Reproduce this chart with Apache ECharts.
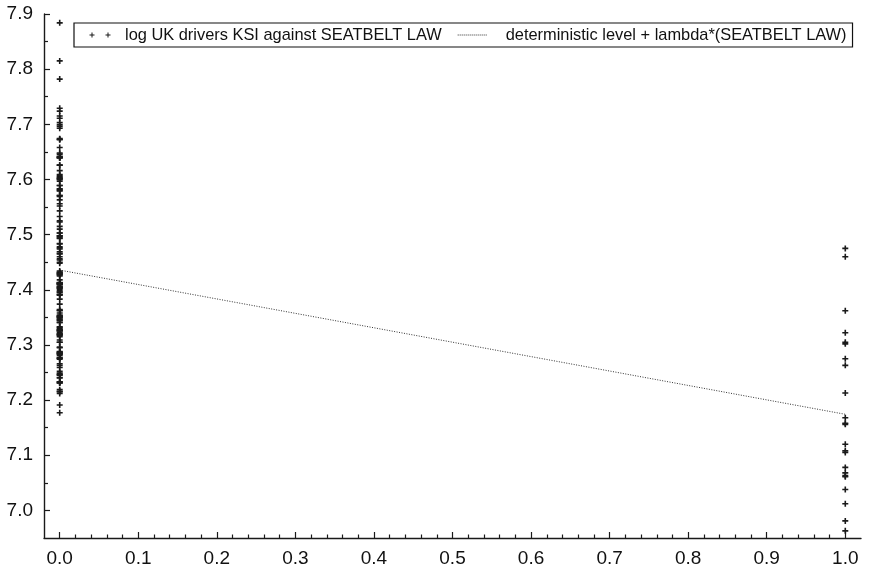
<!DOCTYPE html>
<html><head><meta charset="utf-8">
<script src="https://cdn.jsdelivr.net/npm/echarts@6/dist/echarts.min.js"></script>
<style>html,body{margin:0;padding:0;background:#fff}#c{width:869px;height:572px}</style>
</head><body><div id="c"></div>
<script>
// SEATBELT LAW dummy value for the two groups
const seatbeltBefore = 0;
const seatbeltAfter = 1;
// log UK drivers KSI, Jan 1969 - Jan 1983 (before the law)
const logKSIBefore = [
  7.431, 7.319, 7.318, 7.233, 7.398, 7.320, 7.352, 7.396, 7.364, 7.410, 7.674, 7.672,
  7.469, 7.476, 7.448, 7.351, 7.362, 7.326, 7.498, 7.496, 7.450, 7.605, 7.715, 7.815,
  7.616, 7.412, 7.434, 7.392, 7.498, 7.465, 7.493, 7.563, 7.390, 7.597, 7.711, 7.693,
  7.640, 7.478, 7.515, 7.358, 7.589, 7.525, 7.583, 7.432, 7.483, 7.589, 7.782, 7.884,
  7.648, 7.582, 7.425, 7.571, 7.602, 7.503, 7.607, 7.556, 7.642, 7.640, 7.658, 7.673,
  7.383, 7.315, 7.345, 7.231, 7.456, 7.494, 7.484, 7.543, 7.603, 7.639, 7.646, 7.626,
  7.363, 7.212, 7.410, 7.231, 7.326, 7.259, 7.274, 7.341, 7.412, 7.353, 7.552, 7.696,
  7.295, 7.412, 7.249, 7.241, 7.333, 7.177, 7.330, 7.191, 7.395, 7.466, 7.580, 7.729,
  7.407, 7.245, 7.252, 7.246, 7.240, 7.326, 7.332, 7.404, 7.323, 7.430, 7.601, 7.703,
  7.579, 7.288, 7.354, 7.285, 7.277, 7.391, 7.413, 7.401, 7.404, 7.428, 7.626, 7.724,
  7.503, 7.276, 7.474, 7.287, 7.350, 7.266, 7.263, 7.349, 7.406, 7.410, 7.609, 7.699,
  7.418, 7.216, 7.317, 7.215, 7.281, 7.328, 7.286, 7.347, 7.345, 7.510, 7.460, 7.571,
  7.296, 7.285, 7.341, 7.247, 7.328, 7.233, 7.403, 7.320, 7.427, 7.569, 7.533, 7.454,
  7.283, 7.276, 7.283, 7.219, 7.305, 7.351, 7.305, 7.429, 7.374, 7.523, 7.600, 7.640,
  7.309
];
// log UK drivers KSI, Feb 1983 - Dec 1984 (after the law)
const logKSIAfter = [
  6.963, 7.105, 7.063, 7.120, 6.981, 7.068, 7.038, 7.263, 7.305, 7.302, 7.322,
  7.213, 7.061, 7.156, 7.012, 7.168, 7.078, 7.108, 7.158, 7.275, 7.362, 7.460, 7.475
];
// deterministic level + lambda * SEATBELT LAW
const trendX = [0, 1];
const trendY = [7.4357, 7.1743];

const seriesNames = ['log UK drivers KSI against SEATBELT LAW', 'deterministic level + lambda*(SEATBELT LAW)'];
const xMajorTicks = [0, 0.1, 0.2, 0.3, 0.4, 0.5, 0.6, 0.7, 0.8, 0.9, 1.0];
const xMinorTicks = [0.02, 0.04, 0.06, 0.08, 0.12, 0.14, 0.16, 0.18, 0.22, 0.24, 0.26, 0.28,
  0.32, 0.34, 0.36, 0.38, 0.42, 0.44, 0.46, 0.48, 0.52, 0.54, 0.56, 0.58, 0.62, 0.64, 0.66, 0.68,
  0.72, 0.74, 0.76, 0.78, 0.82, 0.84, 0.86, 0.88, 0.92, 0.94, 0.96, 0.98];
const yMajorTicks = [7.0, 7.1, 7.2, 7.3, 7.4, 7.5, 7.6, 7.7, 7.8, 7.9];
const yMinorTicks = [7.05, 7.15, 7.25, 7.35, 7.45, 7.55, 7.65, 7.75, 7.85];

const scatterData = logKSIBefore.map(v => [seatbeltBefore, v]).concat(logKSIAfter.map(v => [seatbeltAfter, v]));
const lineData = trendX.map((x, i) => [x, trendY[i]]);

const plusPath = 'path://M2.2,0H3.8V2.2H6V3.8H3.8V6H2.2V3.8H0V2.2H2.2Z';
const plusIcon = 'path://M0,0L0,0M43,6L43,6' +
  'M14.5,0.5H15.5V2.5H17.5V3.5H15.5V5.5H14.5V3.5H12.5V2.5H14.5Z' +
  'M30.5,0.5H31.5V2.5H33.5V3.5H31.5V5.5H30.5V3.5H28.5V2.5H30.5Z';
let dotIcon = 'path://M0,0L0,0M43,6L43,6';
for (let k = 0; k < 15; k++) dotIcon += 'M' + (2 * k) + ',2.5h1v1h-1Z';

const FONT = '"Liberation Sans", Arial, Helvetica, sans-serif';
const AX = '#1a1a1a';

const chart = echarts.init(document.getElementById('c'));
chart.setOption({
  animation: false,
  backgroundColor: '#fff',
  grid: { left: 44, right: 8, top: 14, bottom: 34, containLabel: false },
  legend: {
    left: 74, top: 23,
    orient: 'horizontal',
    padding: [3, 6, 3, 3],
    borderColor: '#111', borderWidth: 1.2,
    itemWidth: 43, itemHeight: 6, itemGap: 16,
    itemStyle: { borderWidth: 0 },
    textStyle: { fontFamily: FONT, fontSize: 16.4, color: '#111', lineHeight: 18 },
    data: [
      { name: seriesNames[0], icon: plusIcon },
      { name: seriesNames[1], icon: dotIcon }
    ]
  },
  xAxis: [{
    type: 'value', min: -0.02, max: 1.02, position: 'bottom',
    axisLine: { show: true, onZero: false, lineStyle: { color: AX, width: 1.4 } },
    axisTick: { show: true, inside: true, length: 6, customValues: xMajorTicks, lineStyle: { color: AX, width: 1.2 } },
    axisLabel: { show: true, customValues: xMajorTicks, margin: 11, fontFamily: FONT, fontSize: 19, color: '#111',
      formatter: v => v.toFixed(1) },
    splitLine: { show: false }
  }, {
    type: 'value', min: -0.02, max: 1.02, position: 'bottom',
    axisLine: { show: false, onZero: false },
    axisTick: { show: true, inside: true, length: 3.5, customValues: xMinorTicks, lineStyle: { color: AX, width: 1.2 } },
    axisLabel: { show: false },
    splitLine: { show: false }
  }],
  yAxis: [{
    type: 'value', min: 6.95, max: 7.9, position: 'left',
    axisLine: { show: true, onZero: false, lineStyle: { color: AX, width: 1.4 } },
    axisTick: { show: true, inside: true, length: 6, customValues: yMajorTicks, lineStyle: { color: AX, width: 1.2 } },
    axisLabel: { show: true, customValues: yMajorTicks, margin: 11, fontFamily: FONT, fontSize: 19, color: '#111',
      formatter: v => v.toFixed(1) },
    splitLine: { show: false }
  }, {
    type: 'value', min: 6.95, max: 7.9, position: 'left',
    axisLine: { show: false, onZero: false },
    axisTick: { show: true, inside: true, length: 4, customValues: yMinorTicks, lineStyle: { color: AX, width: 1.2 } },
    axisLabel: { show: false },
    splitLine: { show: false }
  }],
  series: [{
    name: seriesNames[0],
    type: 'scatter',
    xAxisIndex: 0, yAxisIndex: 0,
    data: scatterData,
    symbol: plusPath,
    symbolSize: 6,
    itemStyle: { color: '#1a1a1a', opacity: 1 },
    z: 3
  }, {
    name: seriesNames[1],
    type: 'line',
    xAxisIndex: 0, yAxisIndex: 0,
    data: lineData,
    showSymbol: false,
    symbol: 'none',
    itemStyle: { color: '#333' },
    lineStyle: { color: '#333', width: 1, type: [1, 1.5] },
    z: 2
  }]
});
</script>
</body></html>
